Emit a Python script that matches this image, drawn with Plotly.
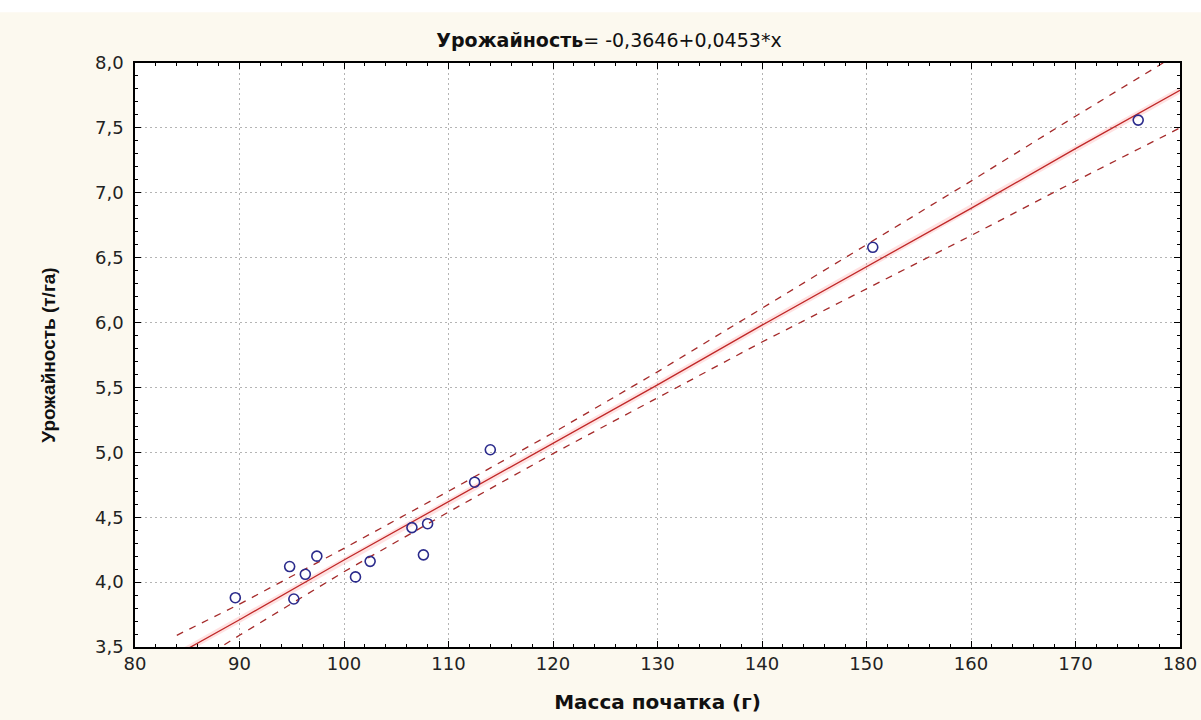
import plotly.graph_objects as go

ear_mass = [89.6, 94.8, 95.2, 96.3, 97.4, 101.1, 102.5, 106.5, 107.6, 108.0, 112.5, 114.0, 150.6, 176.0]
crop_yield = [3.88, 4.12, 3.87, 4.06, 4.20, 4.04, 4.16, 4.42, 4.21, 4.45, 4.77, 5.02, 6.58, 7.56]

# Regression line and 95% confidence bands
band_x = [84, 90, 100, 110, 120, 130, 140, 150, 160, 170, 180]
fit_y = [3.44, 3.71, 4.17, 4.62, 5.07, 5.52, 5.98, 6.43, 6.88, 7.34, 7.79]
upper_y = [3.59, 3.83, 4.26, 4.70, 5.15, 5.62, 6.11, 6.60, 7.09, 7.59, 8.08]
lower_y = [3.29, 3.59, 4.08, 4.54, 4.99, 5.42, 5.85, 6.26, 6.67, 7.09, 7.50]

x_ticks = [80, 90, 100, 110, 120, 130, 140, 150, 160, 170, 180]
y_ticks = [3.5, 4.0, 4.5, 5.0, 5.5, 6.0, 6.5, 7.0, 7.5, 8.0]

title_text = "<b>Урожайность</b>= -0,3646+0,0453*x"
x_title = "Масса початка (г)"
y_title = "Урожайность (т/га)"

fig = go.Figure()

# soft halo under regression line
fig.add_trace(go.Scatter(x=band_x, y=fit_y, mode="lines",
                         line=dict(color="rgba(255,140,140,0.25)", width=6),
                         hoverinfo="skip", showlegend=False))
fig.add_trace(go.Scatter(x=band_x, y=upper_y, mode="lines",
                         line=dict(color="#A52A2A", width=1.3, dash="7px,7px"),
                         showlegend=False))
fig.add_trace(go.Scatter(x=band_x, y=lower_y, mode="lines",
                         line=dict(color="#A52A2A", width=1.3, dash="7px,7px"),
                         showlegend=False))
fig.add_trace(go.Scatter(x=band_x, y=fit_y, mode="lines",
                         line=dict(color="#C02828", width=1.3),
                         showlegend=False))
fig.add_trace(go.Scatter(x=ear_mass, y=crop_yield, mode="markers",
                         marker=dict(symbol="circle-open", size=10, color="#2B2B8C",
                                     line=dict(width=1.6, color="#2B2B8C")),
                         showlegend=False))

axis_common = dict(
    showline=True, linecolor="black", linewidth=1.5, mirror="allticks",
    ticks="inside", ticklen=6, tickwidth=1.3, tickcolor="black",
    showgrid=True, gridcolor="#b4b4b4", griddash="2px,3px", gridwidth=1,
    zeroline=False, automargin=False,
    tickfont=dict(family="DejaVu Sans", size=18, color="#222"),
)

fig.update_xaxes(range=[80, 180], tickvals=x_ticks, **axis_common,
                 minor=dict(dtick=2, ticks="inside", ticklen=3, tickcolor="black", showgrid=False),
                 title=dict(text="<b>" + x_title + "</b>",
                            font=dict(family="DejaVu Sans", size=20, color="#111"),
                            standoff=22))
fig.update_yaxes(range=[3.5, 8.0], tickvals=y_ticks, tickformat=".1f", **axis_common,
                 minor=dict(dtick=0.1, ticks="inside", ticklen=3, tickcolor="black", showgrid=False),
                 ticklabelstandoff=6,
                 title=dict(text="<b>" + y_title + "</b>",
                            font=dict(family="Liberation Sans", size=19, color="#111"),
                            standoff=34))

fig.add_shape(type="rect", xref="paper", yref="paper",
              x0=-0.3, x1=1.2, y0=1.0868, y1=1.2,
              fillcolor="white", line=dict(width=0), layer="below")

fig.update_layout(
    width=1201, height=720,
    margin=dict(l=135, r=21, t=63, b=73),
    paper_bgcolor="#FCF9EF", plot_bgcolor="white",
    separators=", ",
    title=dict(text=title_text, x=609 / 1201, xanchor="center", y=1 - 40 / 720, yanchor="middle",
               font=dict(family="DejaVu Sans", size=19, color="#111")),
)

fig.write_html("out.html", config={"displayModeBar": False},
               post_script="document.body.style.margin='0';")
